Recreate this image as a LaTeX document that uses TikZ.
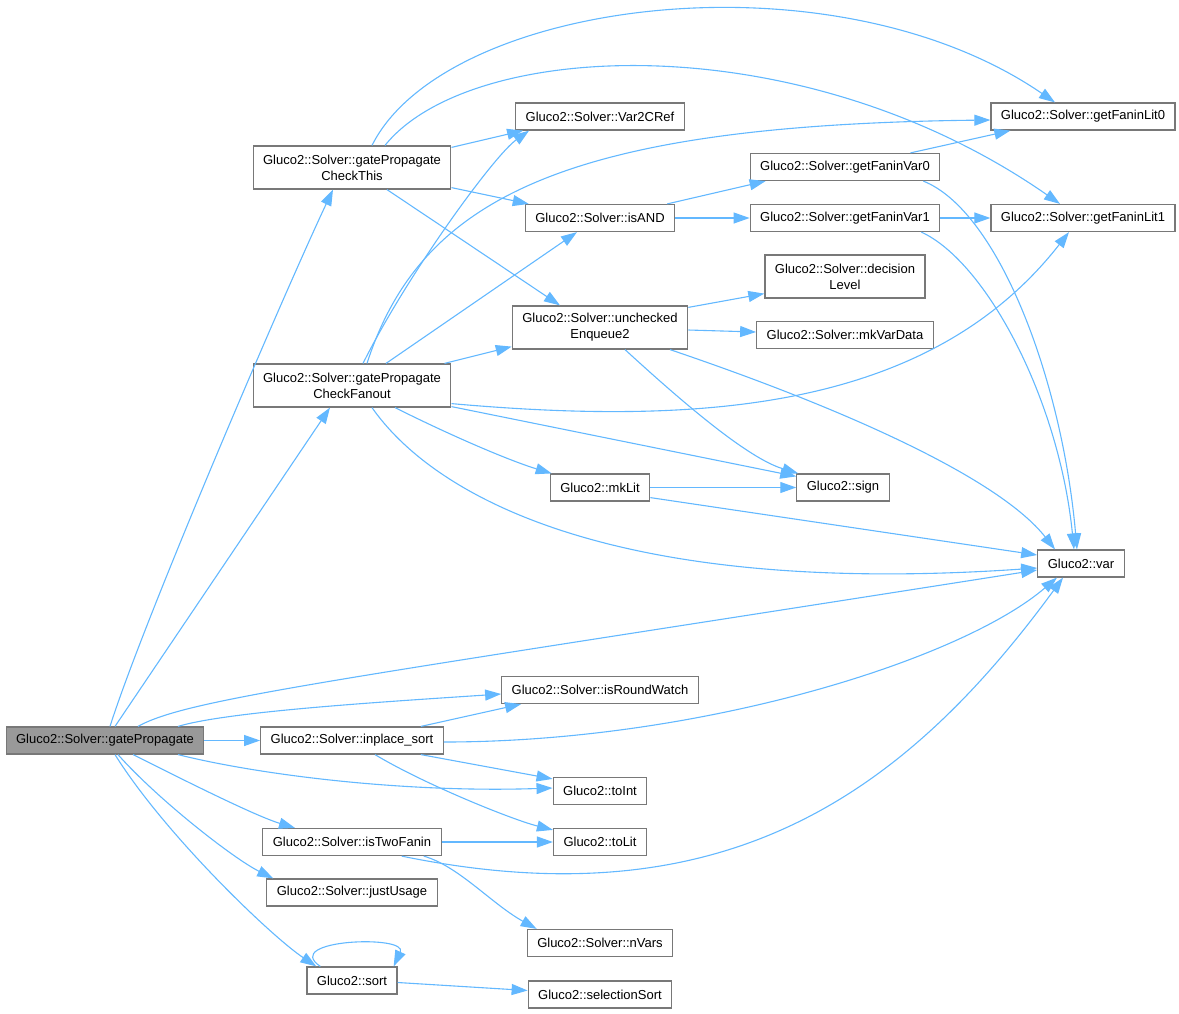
\documentclass[tikz,border=0pt]{standalone}
\usepackage{fontspec}
\setmainfont{Liberation Sans}
\definecolor{callblue}{RGB}{99,184,255}
\definecolor{boxline}{RGB}{120,120,120}
\definecolor{rootgray}{RGB}{153,153,153}
\usetikzlibrary{arrows.meta,positioning}

\begin{document}
\begin{tikzpicture}[
  x=1pt, y=-1pt,
  >={Triangle[length=16pt,width=11pt]},
  fn/.style={draw=boxline, line width=1.2pt, fill=white, inner xsep=10pt, inner ysep=2pt, minimum height=27pt, align=center, font=\fontsize{13}{16}\selectfont},
  fntwo/.style={fn, minimum height=43pt},
  root/.style={fn, fill=rootgray},
  arr/.style={->, line width=1.1pt, callblue}
]
\useasboundingbox (0,0) rectangle (1179,1013);

% call graph nodes, by column
\node[root] (gP) at (105,740.5) {Gluco2::Solver::gatePropagate};

\node[fntwo] (cT) at (352,167.5) {Gluco2::Solver::gatePropagate\\CheckThis};
\node[fntwo] (cF) at (352,385.5) {Gluco2::Solver::gatePropagate\\CheckFanout};
\node[fn] (ips) at (352,740.5) {Gluco2::Solver::inplace\_sort};
\node[fn] (itf) at (352,842) {Gluco2::Solver::isTwoFanin};
\node[fn] (ju) at (352,892.5) {Gluco2::Solver::justUsage};
\node[fn] (sort) at (352,980.5) {Gluco2::sort};

\node[fn] (v2c) at (600,116.5) {Gluco2::Solver::Var2CRef};
\node[fn] (isand) at (600,218) {Gluco2::Solver::isAND};
\node[fntwo] (enq) at (600,327.5) {Gluco2::Solver::unchecked\\Enqueue2};
\node[fn] (mklit) at (600,487.5) {Gluco2::mkLit};
\node[fn] (irw) at (600,690) {Gluco2::Solver::isRoundWatch};
\node[fn] (toint) at (600,791) {Gluco2::toInt};
\node[fn] (tolit) at (600,842) {Gluco2::toLit};
\node[fn] (nvars) at (600,943) {Gluco2::Solver::nVars};
\node[fn] (ssort) at (600,994.5) {Gluco2::selectionSort};

\node[fn] (fv0) at (845,167) {Gluco2::Solver::getFaninVar0};
\node[fn] (fv1) at (845,218) {Gluco2::Solver::getFaninVar1};
\node[fntwo] (dl) at (845,276.5) {Gluco2::Solver::decision\\Level};
\node[fn] (mvd) at (845,335) {Gluco2::Solver::mkVarData};
\node[fn] (sign) at (843,487.5) {Gluco2::sign};

\node[fn] (fl0) at (1083,116.5) {Gluco2::Solver::getFaninLit0};
\node[fn] (fl1) at (1083,218) {Gluco2::Solver::getFaninLit1};
\node[fn] (var) at (1081,563.5) {Gluco2::var};

% gatePropagate
\draw[arr] ([xshift=5pt]gP.north) .. controls +(35,-110) and +(-45,95) .. ([xshift=-19pt]cT.south);
\draw[arr] ([xshift=10pt]gP.north) -- ([xshift=-22pt]cF.south);
\draw[arr] ([xshift=33pt]gP.north) .. controls +(50,-28) and +(-700,110) .. ([yshift=-6.5pt]var.west);
\draw[arr] ([xshift=73pt]gP.north) .. controls +(50,-15) and +(-120,8) .. ([yshift=-4pt]irw.west);
\draw[arr] (gP) -- (ips);
\draw[arr] ([xshift=73pt]gP.south) .. controls +(80,20) and +(-150,5) .. ([yshift=3pt]toint.west);
\draw[arr] ([xshift=28pt]gP.south) .. controls +(50,25) and +(-40,-12) .. ([xshift=-57pt]itf.north);
\draw[arr] ([xshift=13pt]gP.south) .. controls +(40,45) and +(-40,-20) .. ([xshift=7pt]ju.north west);
\draw[arr] ([xshift=10pt]gP.south) .. controls +(50,80) and +(-45,-30) .. ([xshift=10pt]sort.north west);

% gatePropagateCheckThis
\draw[arr] ([xshift=20pt]cT.north) .. controls +(73,-146) and +(-223,-153) .. ([xshift=-28pt]fl0.north);
\draw[arr] ([xshift=33pt]cT.north) .. controls +(85,-106) and +(-260,-181) .. ([xshift=-23pt]fl1.north);
\draw[arr] ([yshift=-2pt]cT.north east) -- ([xshift=8pt]v2c.south west);
\draw[arr] ([yshift=2pt]cT.south east) -- ([xshift=4pt]isand.north west);
\draw[arr] ([xshift=35pt]cT.south) -- ([xshift=-40pt]enq.north);

% gatePropagateCheckFanout
\draw[arr] ([xshift=11pt]cF.north) .. controls +(45,-90) and +(-35,25) .. ([xshift=14pt]v2c.south west);
\draw[arr] ([xshift=15pt]cF.north) .. controls +(53,-164) and +(-428,5) .. ([yshift=-3.5pt]fl0.west);
\draw[arr] ([xshift=34pt]cF.north) -- ([xshift=-23pt]isand.south);
\draw[arr] ([xshift=-7pt]cF.north east) -- ([yshift=3pt]enq.south west);
\draw[arr] ([yshift=4pt]cF.south east) .. controls +(248,22) and +(-140,179) .. ([xshift=-14pt]fl1.south);
\draw[arr] ([yshift=1pt]cF.south east) -- ([yshift=-3pt]sign.north west);
\draw[arr] ([xshift=43pt]cF.south) .. controls +(60,30) and +(-40,-12) .. ([xshift=2pt]mklit.north west);
\draw[arr] ([xshift=20pt]cF.south) .. controls +(58,83) and +(-436,30) .. ([yshift=-4.5pt]var.west);

% uncheckedEnqueue2 and isAND
\draw[arr] ([yshift=-2pt]enq.north east) -- ([yshift=5pt]dl.south west);
\draw[arr] ([yshift=-2.5pt]enq.east) -- ([yshift=3pt]mvd.west);
\draw[arr] ([xshift=25pt]enq.south) .. controls +(60,55) and +(-50,-15) .. ([xshift=2pt]sign.north west);
\draw[arr] ([xshift=70pt]enq.south) .. controls +(180,61) and +(-55,-70) .. ([xshift=-26pt]var.north);
\draw[arr] ([xshift=-8pt]isand.north east) -- ([xshift=16pt]fv0.south west);
\draw[arr] (isand) -- (fv1);

% getFaninVar0/1
\draw[arr] ([xshift=-30pt]fv0.north east) -- ([xshift=20pt]fl0.south west);
\draw[arr] ([xshift=-17pt]fv0.south east) .. controls +(75,30) and +(-15,-170) .. ([xshift=-4pt]var.north);
\draw[arr] (fv1) -- (fl1);
\draw[arr] ([xshift=-19pt]fv1.south east) .. controls +(65,30) and +(-15,-150) .. ([xshift=-7pt]var.north);

% mkLit
\draw[arr] (mklit) -- (sign);
\draw[arr] ([yshift=4pt]mklit.south east) -- ([yshift=8.5pt]var.west);

% inplace_sort
\draw[arr] ([xshift=-23pt]ips.north east) -- ([xshift=20pt]irw.south west);
\draw[arr] ([yshift=-1.5pt]ips.east) .. controls +(255,0) and +(-97,83) .. ([xshift=-24pt]var.south);
\draw[arr] ([xshift=-23pt]ips.south east) -- ([yshift=-2pt]toint.north west);
\draw[arr] ([xshift=23pt]ips.south) .. controls +(50,30) and +(-40,-10) .. ([yshift=-2pt]tolit.north west);

% isTwoFanin
\draw[arr] (itf) -- (tolit);
\draw[arr] ([xshift=-40pt]itf.south east) .. controls +(317,65) and +(-163,223) .. ([xshift=-18pt]var.south);
\draw[arr] ([xshift=-18pt]itf.south east) .. controls +(35,10) and +(-45,-25) .. ([xshift=10pt]nvars.north west);

% sort
\draw[arr] ([xshift=14pt]sort.north west) .. controls +(-40,-27) and +(15,-32) .. ([xshift=-4pt]sort.north east);
\draw[arr] ([yshift=-2pt]sort.east) -- ([yshift=4pt]ssort.west);
\end{tikzpicture}
\end{document}
